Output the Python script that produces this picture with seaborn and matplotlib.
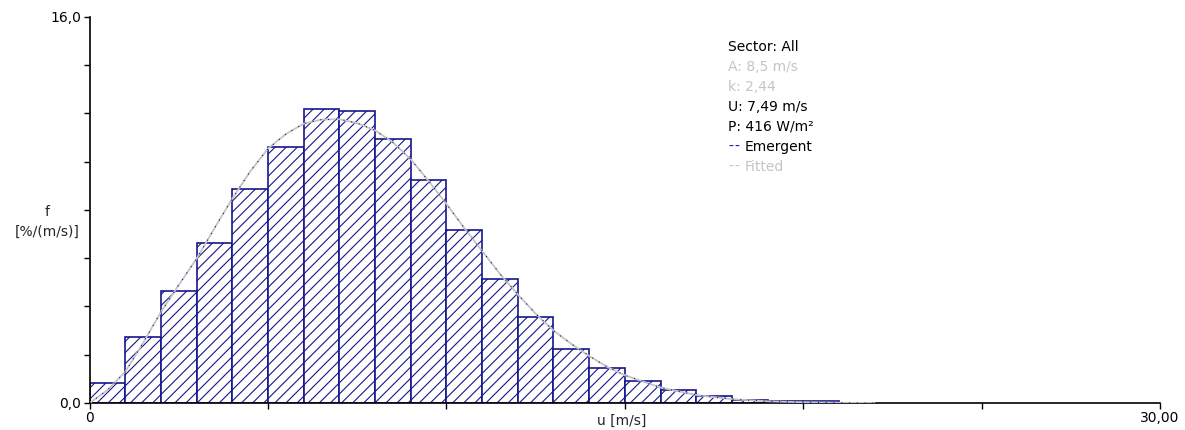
import numpy as np
import pandas as pd
import matplotlib
matplotlib.use("Agg")
import matplotlib.pyplot as plt
import seaborn as sns

# ---- data ----
bin_edges = list(range(0, 22))          # 1 m/s wide bins, 0..21 m/s
freq = [0.84, 2.74, 4.65, 6.62, 8.85, 10.60, 12.20, 12.12, 10.93, 9.25,
        7.18, 5.12, 3.57, 2.25, 1.45, 0.90, 0.52, 0.30, 0.14, 0.07, 0.07]

curve_u = [0, 0.5, 1, 1.5, 2, 2.5, 3, 3.5, 4, 4.5, 5, 5.5, 6, 6.5, 7, 7.5, 8,
           8.5, 9, 9.5, 10, 10.5, 11, 11.5, 12, 12.5, 13, 13.5, 14, 14.5, 15,
           16, 17, 18, 19, 20, 21, 22]
curve_f = [0.0, 0.54, 1.30, 2.50, 3.78, 4.90, 5.99, 7.25, 8.48, 9.60, 10.55,
           11.15, 11.58, 11.75, 11.76, 11.60, 11.30, 10.80, 10.10, 9.20, 8.25,
           7.25, 6.30, 5.35, 4.50, 3.70, 3.00, 2.45, 1.95, 1.50, 1.15,
           0.64, 0.33, 0.16, 0.07, 0.03, 0.01, 0.0]

legend_lines = ["Sector: All", "A: 8,5 m/s", "k: 2,44", "U: 7,49 m/s",
                "P: 416 W/m\u00b2"]
legend_grey = [False, True, True, False, False]

x_label = "u [m/s]"
y_label = "f\n[%/(m/s)]"

# ---- styling ----
sns.set_style("ticks")
plt.rcParams["font.family"] = ["DejaVu Sans"]
plt.rcParams["hatch.linewidth"] = 0.8
NAVY = "#16168c"
GREY = "#c4c4c4"
FS = 10

centers = [e + 0.5 for e in bin_edges[:-1]]
df = pd.DataFrame({"u": centers, "f": freq})

fig = plt.figure(figsize=(11.85, 4.30), dpi=100)
ax = fig.add_axes([0.0757, 0.0628, 0.9032, 0.8977])

sns.histplot(data=df, x="u", weights="f", bins=bin_edges, stat="count",
             element="bars", fill=True, facecolor="white", edgecolor=NAVY,
             linewidth=1.2, hatch="///", alpha=1, ax=ax, legend=False)

sns.lineplot(x=curve_u, y=curve_f, color=GREY, lw=1.3, ax=ax, zorder=5)
sns.lineplot(x=curve_u, y=curve_f, color=NAVY, lw=0.8, ax=ax, zorder=6,
             linestyle=(0, (1, 6)))

ax.set_xlim(0, 30)
ax.set_ylim(0, 16)
ax.set_xticks([0, 5, 10, 15, 20, 25, 30])
ax.set_xticklabels(["0", "", "", "", "", "", "30,00"])
ax.set_yticks([0, 2, 4, 6, 8, 10, 12, 14, 16])
ax.set_yticklabels(["0,0", "", "", "", "", "", "", "", "16,0"])
ax.tick_params(axis="both", direction="out", length=4, width=1,
               labelsize=FS, colors="black", pad=2)
ax.set_xlabel("")
ax.set_ylabel("")
sns.despine(ax=ax)
for s in ("left", "bottom"):
    ax.spines[s].set_color("black")
    ax.spines[s].set_linewidth(1.2)

# axis labels placed as in the reference
fig.text(622 / 1185, 1 - 421 / 430, x_label, ha="center", va="center",
         fontsize=FS)
fig.text(47 / 1185, 1 - 222 / 430, y_label, ha="center", va="center",
         fontsize=FS, linespacing=1.5)

# info block (top right)
x0 = 728 / 1185
y0 = 47.3
dy = 19.9
for i, (t, g) in enumerate(zip(legend_lines, legend_grey)):
    fig.text(x0, 1 - (y0 + dy * i) / 430, t, ha="left", va="center",
             fontsize=FS, color=(GREY if g else "black"))


def dash_entry(row, label, dash_color, text_color):
    yy = 1 - (y0 + dy * row) / 430
    for off in (0, 6):
        fig.text(x0 + off / 1185, yy, "-", ha="left", va="center",
                 fontsize=FS, color=dash_color)
    fig.text(x0 + 17 / 1185, yy, label, ha="left", va="center",
             fontsize=FS, color=text_color)


dash_entry(5, "Emergent", NAVY, "black")
dash_entry(6, "Fitted", GREY, GREY)

fig.savefig("out.png", dpi=100)
